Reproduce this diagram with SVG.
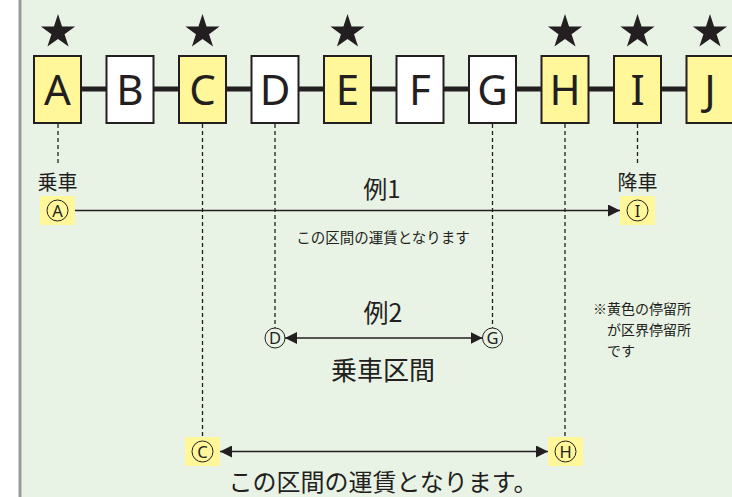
<svg xmlns="http://www.w3.org/2000/svg" width="732" height="497" viewBox="0 0 732 497">
<style>
.bg{fill:#e8f3e5}
.box{stroke:#231f20;stroke-width:2}
.yel{fill:#fff799}
.wht{fill:#ffffff}
.lt{font-family:"Noto Sans","Liberation Sans",sans-serif;font-size:42px;fill:#231f20;text-anchor:middle}
.jp{font-family:"Noto Sans CJK JP","Noto Sans",sans-serif;fill:#231f20;text-anchor:middle}
.jpl{font-family:"Noto Sans CJK JP","Noto Sans",sans-serif;fill:#231f20}
.dash{stroke:#231f20;stroke-width:1.3;stroke-dasharray:4 3;fill:none}
.arr{stroke:#231f20;stroke-width:1.4;fill:none}
.cir{fill:none;stroke:#231f20;stroke-width:1}
.cl{font-family:"Noto Sans","Liberation Sans",sans-serif;font-size:16.5px;fill:#231f20;text-anchor:middle}
.hl{fill:#fff799}
</style>
<defs>
<path id="star" d="M0,-18 L4.06,-5.58 L17.12,-5.56 L6.56,2.13 L10.58,14.56 L0,6.9 L-10.58,14.56 L-6.56,2.13 L-17.12,-5.56 L-4.06,-5.58 Z" fill="#231f20"/>
<marker id="ah" markerWidth="12" markerHeight="12" refX="12" refY="6" orient="auto" markerUnits="userSpaceOnUse">
<path d="M0,0 L12,6 L0,12 Z" fill="#231f20"/>
</marker>
<marker id="ahs" markerWidth="12" markerHeight="12" refX="0" refY="6" orient="auto" markerUnits="userSpaceOnUse">
<path d="M12,0 L0,6 L12,12 Z" fill="#231f20"/>
</marker>
</defs>
<rect x="0" y="0" width="732" height="497" fill="#ffffff"/>
<rect class="bg" x="21" y="0" width="711" height="497"/>
<line x1="20" y1="0" x2="20" y2="497" stroke="#9a9a9a" stroke-width="3"/>

<g id="connectors">
<line x1="60" y1="89" x2="732" y2="89" stroke="#231f20" stroke-width="5"/>
<line class="dash" x1="58" y1="124" x2="58" y2="166"/>
<line class="dash" x1="637.5" y1="124" x2="637.5" y2="166"/>
<line class="dash" x1="202.5" y1="124" x2="202.5" y2="437"/>
<line class="dash" x1="565" y1="124" x2="565" y2="437"/>
<line class="dash" x1="275" y1="124" x2="275" y2="328"/>
<line class="dash" x1="492.5" y1="124" x2="492.5" y2="328"/>
<line class="arr" x1="75" y1="210.5" x2="620" y2="210.5" marker-end="url(#ah)"/>
<line class="arr" x1="285" y1="338" x2="482.5" y2="338" marker-start="url(#ahs)" marker-end="url(#ah)"/>
<line class="arr" x1="220" y1="451.5" x2="548" y2="451.5" marker-start="url(#ahs)" marker-end="url(#ah)"/>
</g>

<g id="stars">
<use href="#star" x="58" y="32"/>
<use href="#star" x="202.5" y="32"/>
<use href="#star" x="347.5" y="32"/>
<use href="#star" x="565" y="32"/>
<use href="#star" x="637.5" y="32"/>
<use href="#star" x="710" y="32"/>
</g>

<g id="node-A"><rect class="box yel" x="34" y="56" width="47" height="67"/><text class="lt" x="57.5" y="105">A</text></g>
<g id="node-B"><rect class="box wht" x="106.5" y="56" width="47" height="67"/><text class="lt" x="130" y="105">B</text></g>
<g id="node-C"><rect class="box yel" x="179" y="56" width="47" height="67"/><text class="lt" x="202.5" y="105">C</text></g>
<g id="node-D"><rect class="box wht" x="251.5" y="56" width="47" height="67"/><text class="lt" x="275" y="105">D</text></g>
<g id="node-E"><rect class="box yel" x="324" y="56" width="47" height="67"/><text class="lt" x="347.5" y="105">E</text></g>
<g id="node-F"><rect class="box wht" x="396.5" y="56" width="47" height="67"/><text class="lt" x="420" y="105">F</text></g>
<g id="node-G"><rect class="box wht" x="469" y="56" width="47" height="67"/><text class="lt" x="492.5" y="105">G</text></g>
<g id="node-H"><rect class="box yel" x="541.5" y="56" width="47" height="67"/><text class="lt" x="565" y="105">H</text></g>
<g id="node-I"><rect class="box yel" x="614" y="56" width="47" height="67"/><text class="lt" x="637.5" y="105">I</text></g>
<g id="node-J"><rect class="box yel" x="686.5" y="56" width="47" height="67"/><text class="lt" x="710" y="105">J</text></g>

<g id="ex1">
<text class="jp" x="57.5" y="190" font-size="20">乗車</text>
<text class="jp" x="637.5" y="190" font-size="20">降車</text>
<g id="mark-A"><rect class="hl" x="40" y="196" width="35" height="29"/><circle class="cir" cx="57.5" cy="210.5" r="10.5"/><text class="cl" x="57.5" y="216.5">A</text></g>
<g id="mark-I"><rect class="hl" x="620" y="196" width="35" height="29"/><circle class="cir" cx="637.5" cy="210.5" r="10.5"/><text class="cl" x="637.5" y="216.5">I</text></g>
<text class="jp" x="382" y="198" font-size="24">例1</text>
<text class="jp" x="383" y="243" font-size="14.5">この区間の運賃となります</text>
</g>

<g id="ex2">
<text class="jp" x="383" y="322" font-size="25">例2</text>
<g id="mark-D"><circle class="cir" cx="275" cy="338" r="10"/><text class="cl" x="275" y="344">D</text></g>
<g id="mark-G"><circle class="cir" cx="492.5" cy="338" r="10"/><text class="cl" x="492.5" y="344">G</text></g>
<text class="jp" x="383" y="380" font-size="26">乗車区間</text>
</g>

<g id="ex3">
<g id="mark-C"><rect class="hl" x="185" y="437" width="35" height="29"/><circle class="cir" cx="202.5" cy="451.5" r="10.5"/><text class="cl" x="202.5" y="457.5">C</text></g>
<g id="mark-H"><rect class="hl" x="548" y="437" width="35" height="29"/><circle class="cir" cx="565.5" cy="451.5" r="10.5"/><text class="cl" x="565.5" y="457.5">H</text></g>
<text class="jp" x="383" y="491" font-size="24">この区間の運賃となります。</text>
</g>

<g id="note">
<text class="jpl" x="593" y="314" font-size="14">※黄色の停留所</text>
<text class="jpl" x="607" y="335" font-size="14">が区界停留所</text>
<text class="jpl" x="607" y="356" font-size="14">です</text>
</g>
</svg>
